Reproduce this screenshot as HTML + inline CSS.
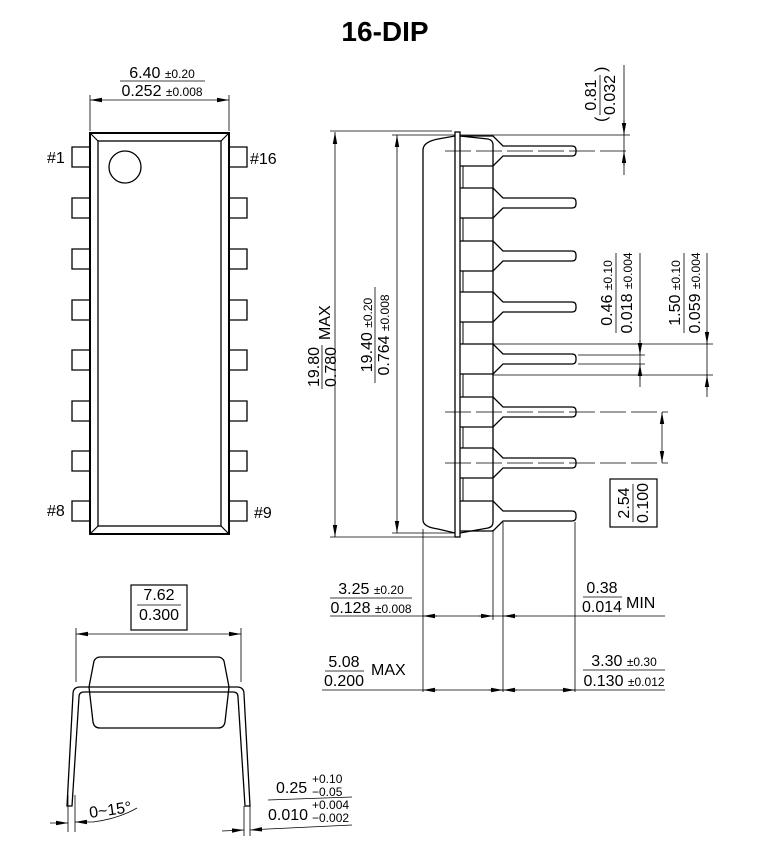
<!DOCTYPE html>
<html><head><meta charset="utf-8"><style>
html,body{margin:0;padding:0;background:#fff;}
svg{display:block;font-family:"Liberation Sans",sans-serif;}
</style></head><body>
<svg width="771" height="860" viewBox="0 0 771 860" xmlns="http://www.w3.org/2000/svg">
<defs>
<marker id="a" markerUnits="userSpaceOnUse" markerWidth="13" markerHeight="6" refX="12" refY="3" orient="auto-start-reverse"><path d="M0,0.8 L12,3 L0,5.2 z" fill="#000"/></marker>
</defs>
<text x="385" y="41" font-size="28" font-weight="bold" text-anchor="middle">16-DIP</text>

<!-- TOP VIEW -->
<g fill="none" stroke="#000">
<rect x="90" y="133" width="139" height="401" stroke-width="2"/>
<rect x="98" y="141" width="123" height="385" stroke-width="1.3"/>
<path d="M90,133 L98,141 M229,133 L221,141 M90,534 L98,526 M229,534 L221,526" stroke-width="1.2"/>
<circle cx="125" cy="167" r="16" stroke-width="1.3"/>
<g stroke-width="1.3">
<path d="M90,147 H72 V167 H90 M90,198 H72 V218 H90 M90,249 H72 V269 H90 M90,300 H72 V320 H90 M90,350 H72 V370 H90 M90,401 H72 V421 H90 M90,451 H72 V471 H90 M90,501 H72 V521 H90"/>
<path d="M229,147 H247 V167 H229 M229,198 H247 V218 H229 M229,249 H247 V269 H229 M229,300 H247 V320 H229 M229,350 H247 V370 H229 M229,401 H247 V421 H229 M229,451 H247 V471 H229 M229,501 H247 V521 H229"/>
</g>
<path d="M90,95 V131 M229,95 V131 M330,131 H452 M392,135 H455 M330,537 H455 M392,533 H455" stroke-width="0.8"/>
<line x1="90" y1="100" x2="229" y2="100" stroke-width="0.8" marker-start="url(#a)" marker-end="url(#a)"/>
</g>
<text x="162" y="78" font-size="16" text-anchor="middle">6.40 <tspan font-size="12">±0.20</tspan></text>
<line x1="120" y1="81" x2="205" y2="81" stroke="#000" stroke-width="0.8"/>
<text x="162" y="96" font-size="16" text-anchor="middle">0.252 <tspan font-size="12">±0.008</tspan></text>
<text x="47" y="163" font-size="16">#1</text>
<text x="250" y="164" font-size="16">#16</text>
<text x="47" y="516" font-size="16">#8</text>
<text x="254" y="518" font-size="16">#9</text>

<!-- SIDE VIEW -->
<g fill="none" stroke="#000" stroke-width="1.3">
<rect x="455" y="132" width="5" height="405"/>
<path d="M455,136 L438,139 Q423,142 423,150 V520 Q423,527 438,529 L455,533"/>
<path d="M460,136 L488,139 Q493,140 493,145 V522 Q493,527 488,528 L460,533"/>
<path d="M460,136 H493 L503,146 H572 Q576,146 576,150 V152 Q576,156 572,156 H503 L493,166 H460"/>
<path d="M460,188 H493 L503,198 H572 Q576,198 576,202 V204 Q576,208 572,208 H503 L493,218 H460"/>
<path d="M460,241 H493 L503,251 H572 Q576,251 576,255 V257 Q576,261 572,261 H503 L493,271 H460"/>
<path d="M460,292 H493 L503,302 H572 Q576,302 576,306 V308 Q576,312 572,312 H503 L493,322 H460"/>
<path d="M460,344 H493 L503,354 H572 Q576,354 576,358 V360 Q576,364 572,364 H503 L493,374 H460"/>
<path d="M460,397 H493 L503,407 H572 Q576,407 576,411 V413 Q576,417 572,417 H503 L493,427 H460"/>
<path d="M460,448 H493 L503,458 H572 Q576,458 576,462 V464 Q576,468 572,468 H503 L493,478 H460"/>
<path d="M460,501 H493 L503,511 H572 Q576,511 576,515 V517 Q576,521 572,521 H503 L493,531 H460"/>
<path d="M463,166 V188 M463,218 V241 M463,271 V292 M463,322 V344 M463,374 V397 M463,427 V448 M463,478 V501" stroke-width="1"/>
</g>
<g fill="none" stroke="#000" stroke-width="0.8">
<path d="M445,151 H630 M445,412 H668 M445,463 H668" stroke-dasharray="26,5"/>
<path d="M460,135 H630 M624,65 V175 M578,355 H645 M578,364 H645 M493,344 H713 M493,375 H713 M640,253 V387 M707,253 V397"/>
<line x1="335" y1="132" x2="335" y2="537" marker-start="url(#a)" marker-end="url(#a)"/>
<line x1="397" y1="135" x2="397" y2="533" marker-start="url(#a)" marker-end="url(#a)"/>
<line x1="624" y1="120" x2="624" y2="135" marker-end="url(#a)"/>
<line x1="624" y1="166" x2="624" y2="151" marker-end="url(#a)"/>
<line x1="640" y1="340" x2="640" y2="355" marker-end="url(#a)"/>
<line x1="640" y1="379" x2="640" y2="364" marker-end="url(#a)"/>
<line x1="707" y1="330" x2="707" y2="344" marker-end="url(#a)"/>
<line x1="707" y1="390" x2="707" y2="375" marker-end="url(#a)"/>
<line x1="662" y1="412" x2="662" y2="463" marker-start="url(#a)" marker-end="url(#a)"/>
<rect x="610" y="479" width="47" height="48" stroke-width="1.2"/>
<path d="M423,529 V692 M493,530 V620 M503,522 V692 M575,522 V692 M330,616 H665 M322,690 H665"/>
<line x1="437" y1="616" x2="423" y2="616" marker-end="url(#a)"/>
<line x1="479" y1="616" x2="493" y2="616" marker-end="url(#a)"/>
<line x1="517" y1="616" x2="503" y2="616" marker-end="url(#a)"/>
<line x1="437" y1="690" x2="423" y2="690" marker-end="url(#a)"/>
<line x1="489" y1="690" x2="503" y2="690" marker-end="url(#a)"/>
<line x1="517" y1="690" x2="503" y2="690" marker-end="url(#a)"/>
<line x1="561" y1="690" x2="575" y2="690" marker-end="url(#a)"/>
<path d="M330,598 H412 M583,597 H622 M325,671 H364 M583,670 H665"/>
</g>
<g font-size="16">
<g transform="translate(322,367) rotate(-90)">
<text x="0" y="-3" text-anchor="middle">19.80</text>
<line x1="-22" y1="0" x2="22" y2="0" stroke="#000" stroke-width="0.8"/>
<text x="0" y="14" text-anchor="middle">0.780</text>
<text x="27" y="8">MAX</text>
</g>
<g transform="translate(375,335) rotate(-90)">
<text x="0" y="-3" text-anchor="middle">19.40 <tspan font-size="12">±0.20</tspan></text>
<line x1="-48" y1="0" x2="48" y2="0" stroke="#000" stroke-width="0.8"/>
<text x="0" y="14" text-anchor="middle">0.764 <tspan font-size="12">±0.008</tspan></text>
</g>
<g transform="translate(600,95) rotate(-90)">
<text x="0" y="-4" text-anchor="middle">0.81</text>
<line x1="-20" y1="0" x2="20" y2="0" stroke="#000" stroke-width="0.8"/>
<text x="0" y="15" text-anchor="middle">0.032</text>
<text x="-27" y="6">(</text>
<text x="23" y="6">)</text>
</g>
<g transform="translate(616,293) rotate(-90)">
<text x="0" y="-4" text-anchor="middle">0.46 <tspan font-size="12">±0.10</tspan></text>
<line x1="-40" y1="0" x2="40" y2="0" stroke="#000" stroke-width="0.8"/>
<text x="0" y="16" text-anchor="middle">0.018 <tspan font-size="12">±0.004</tspan></text>
</g>
<g transform="translate(684,293) rotate(-90)">
<text x="0" y="-4" text-anchor="middle">1.50 <tspan font-size="12">±0.10</tspan></text>
<line x1="-40" y1="0" x2="40" y2="0" stroke="#000" stroke-width="0.8"/>
<text x="0" y="16" text-anchor="middle">0.059 <tspan font-size="12">±0.004</tspan></text>
</g>
<g transform="translate(633,503) rotate(-90)">
<text x="0" y="-4" text-anchor="middle">2.54</text>
<line x1="-19" y1="0" x2="19" y2="0" stroke="#000" stroke-width="0.8"/>
<text x="0" y="15" text-anchor="middle">0.100</text>
</g>
<text x="371" y="594" text-anchor="middle">3.25 <tspan font-size="12">±0.20</tspan></text>
<text x="371" y="613" text-anchor="middle">0.128 <tspan font-size="12">±0.008</tspan></text>
<text x="602" y="593" text-anchor="middle">0.38</text>
<text x="602" y="612" text-anchor="middle">0.014</text>
<text x="626" y="608">MIN</text>
<text x="344" y="667" text-anchor="middle">5.08</text>
<text x="344" y="686" text-anchor="middle">0.200</text>
<text x="371" y="675">MAX</text>
<text x="624" y="666" text-anchor="middle">3.30 <tspan font-size="12">±0.30</tspan></text>
<text x="624" y="686" text-anchor="middle">0.130 <tspan font-size="12">±0.012</tspan></text>
</g>

<!-- END VIEW -->
<g fill="none" stroke="#000">
<rect x="131" y="585" width="56" height="45" stroke-width="1.2"/>
<line x1="137" y1="605" x2="181" y2="605" stroke-width="0.8"/>
<path d="M76,628 V682 M241,628 V682" stroke-width="0.8"/>
<line x1="76" y1="634" x2="241" y2="634" stroke-width="0.8" marker-start="url(#a)" marker-end="url(#a)"/>
<g stroke-width="1.3">
<path d="M80,687 H237 M84,692 H233"/>
<path d="M80,687 Q73,687 73,694 L67,806 H72 L79,697 Q79,692 84,692"/>
<path d="M237,687 Q244,687 244,694 L250,806 H245 L238,697 Q238,692 233,692"/>
<path d="M100,657 H218 Q222,657 224,661 L229,687 L225,722 Q224,728 218,728 H100 Q94,728 93,722 L89,687 L94,661 Q96,657 100,657 Z"/>
</g>
<g stroke-width="0.8">
<path d="M68,795 V832 M75,795 V832 M244,806 V836 M250,806 V836"/>
<line x1="50" y1="823" x2="68" y2="823" marker-end="url(#a)"/>
<line x1="93" y1="822" x2="75" y2="822" marker-end="url(#a)"/>
<path d="M93,822 Q118,819 137,808"/>
<line x1="222" y1="831" x2="244" y2="830" marker-end="url(#a)"/>
<line x1="268" y1="829" x2="250" y2="830" marker-end="url(#a)"/>
<path d="M268,829 L352,825 M268,800 L352,797"/>
</g>
</g>
<g font-size="16">
<text x="159" y="600" text-anchor="middle">7.62</text>
<text x="159" y="620" text-anchor="middle">0.300</text>
<text x="90" y="818" transform="rotate(-8 90 818)">0~15°</text>
<text x="276" y="793">0.25</text>
<text x="312" y="783" font-size="12">+0.10</text>
<text x="312" y="796" font-size="12">−0.05</text>
<text x="268" y="820">0.010</text>
<text x="312" y="809" font-size="12">+0.004</text>
<text x="312" y="822" font-size="12">−0.002</text>
</g>
</svg>
</body></html>
